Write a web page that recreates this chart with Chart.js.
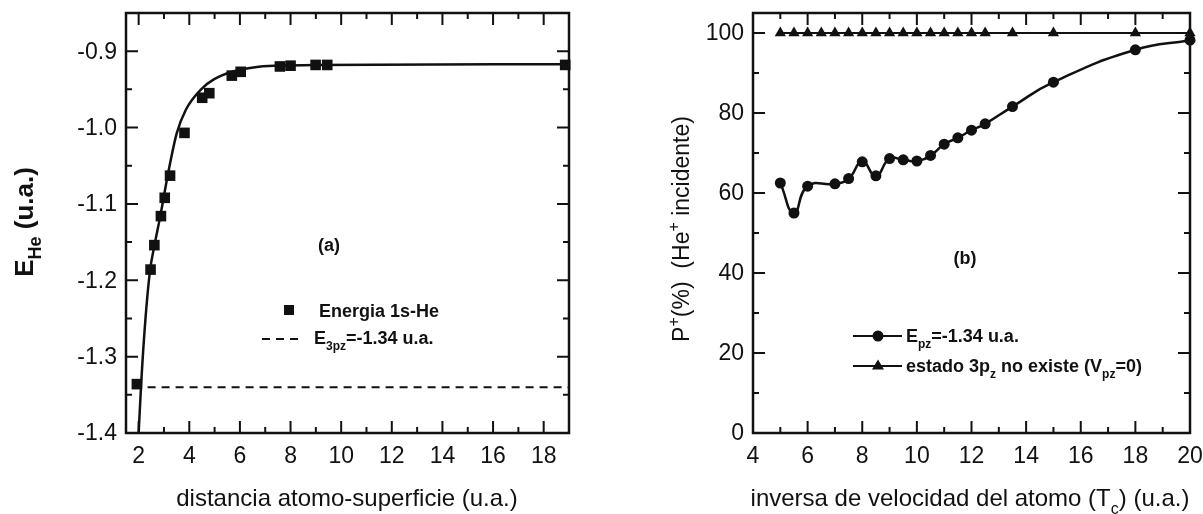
<!DOCTYPE html>
<html>
<head>
<meta charset="utf-8">
<script src="https://cdn.jsdelivr.net/npm/chart.js@4.4.1/dist/chart.umd.min.js"></script>
<style>
  html, body { margin: 0; padding: 0; background: #fff; }
  #wrap { position: relative; width: 1203px; height: 514px; overflow: hidden; }
  #wrap canvas { position: absolute; top: 0; }
</style>
</head>
<body>
<div id="wrap">
  <canvas id="chartA" width="600" height="514" style="left:0"></canvas>
  <canvas id="chartB" width="603" height="514" style="left:600px"></canvas>
</div>
<script>
// (a) energia 1s-He frente a la distancia
var distPoints   = [1.93, 2.47, 2.62, 2.88, 3.03, 3.24, 3.81, 4.51, 4.79, 5.68, 6.03, 7.58, 8.0, 8.99, 9.45, 18.85];
var energyPoints = [-1.336, -1.186, -1.154, -1.116, -1.092, -1.063, -1.007, -0.961, -0.955, -0.932, -0.927, -0.920, -0.919, -0.918, -0.918, -0.918];
// curva de ajuste
var fitDist   = [2.0, 2.1, 2.27, 2.45, 2.62, 2.86, 3.14, 3.5, 3.86, 4.5, 4.97, 5.69, 6.6, 7.5, 9.0, 19.0];
var fitEnergy = [-1.40, -1.335, -1.25, -1.187, -1.155, -1.115, -1.064, -1.008, -0.977, -0.949, -0.937, -0.927, -0.921, -0.919, -0.918, -0.917];
var e3pz = -1.34;
var e3pzDist = [1.8, 19.0];

// (b) P+ frente a la inversa de la velocidad
var tcCircles = [5, 5.5, 6, 7, 7.5, 8, 8.5, 9, 9.5, 10, 10.5, 11, 11.5, 12, 12.5, 13.5, 15, 18, 20];
var pCircles  = [62.5, 55, 61.7, 62.3, 63.6, 67.8, 64.3, 68.6, 68.3, 68, 69.4, 72.2, 73.8, 75.7, 77.3, 81.6, 87.7, 95.8, 98.2];
var tcTriangles = [5, 5.5, 6, 6.5, 7, 7.5, 8, 8.5, 9, 9.5, 10, 10.5, 11, 11.5, 12, 12.5, 13.5, 15, 18, 20];
var pTriangles  = [100, 100, 100, 100, 100, 100, 100, 100, 100, 100, 100, 100, 100, 100, 100, 100, 100, 100, 100, 100];

// ticks
var aXMajor = [2, 4, 6, 8, 10, 12, 14, 16, 18];
var aXMinor = [3, 5, 7, 9, 11, 13, 15, 17];
var aYMajor = [-1.4, -1.3, -1.2, -1.1, -1.0, -0.9];
var aYMinor = [-1.35, -1.25, -1.15, -1.05, -0.95];
var bXMajor = [4, 6, 8, 10, 12, 14, 16, 18, 20];
var bXMinor = [5, 7, 9, 11, 13, 15, 17, 19];
var bYMajor = [0, 20, 40, 60, 80, 100];
var bYMinor = [10, 30, 50, 70, 90];

var ink = '#111';
var family = '"Liberation Sans", Arial, Helvetica, sans-serif';

function pairs(xs, ys) {
  return xs.map(function (x, i) { return { x: x, y: ys[i] }; });
}

function font(size, weight) {
  return (weight || 'normal') + ' ' + size + 'px ' + family;
}

// texto con subindices / superindices: parts = [[texto, '' | 'sub' | 'sup'], ...]
function richText(ctx, parts, x, y, size, weight, align) {
  var widths = parts.map(function (p) {
    ctx.font = font(p[1] ? Math.round(size * 0.68) : size, weight);
    return ctx.measureText(p[0]).width;
  });
  var total = widths.reduce(function (s, w) { return s + w; }, 0);
  var cx = align === 'center' ? x - total / 2 : x;
  ctx.textAlign = 'left';
  ctx.textBaseline = 'alphabetic';
  parts.forEach(function (p, i) {
    ctx.font = font(p[1] ? Math.round(size * 0.68) : size, weight);
    var dy = p[1] === 'sub' ? size * 0.32 : (p[1] === 'sup' ? -size * 0.42 : 0);
    ctx.fillText(p[0], cx, y + dy);
    cx += widths[i];
  });
}

function panelPlugin(cfg) {
  return {
    id: 'panel',
    afterDraw: function (chart) {
      var ctx = chart.ctx, a = chart.chartArea;
      var xs = chart.scales.x, ys = chart.scales.y;
      ctx.save();
      ctx.strokeStyle = ink;
      ctx.fillStyle = ink;

      // marco
      ctx.lineWidth = 2.5;
      ctx.strokeRect(a.left, a.top, a.right - a.left, a.bottom - a.top);

      // ticks hacia dentro en los cuatro lados
      ctx.lineWidth = 2;
      ctx.beginPath();
      function xt(list, len) {
        list.forEach(function (v) {
          var p = xs.getPixelForValue(v);
          ctx.moveTo(p, a.bottom); ctx.lineTo(p, a.bottom - len);
          ctx.moveTo(p, a.top); ctx.lineTo(p, a.top + len);
        });
      }
      function yt(list, len) {
        list.forEach(function (v) {
          var p = ys.getPixelForValue(v);
          ctx.moveTo(a.left, p); ctx.lineTo(a.left + len, p);
          ctx.moveTo(a.right, p); ctx.lineTo(a.right - len, p);
        });
      }
      xt(cfg.xMajor, 12); xt(cfg.xMinor, 6);
      yt(cfg.yMajor, 12); yt(cfg.yMinor, 6);
      ctx.stroke();

      // etiquetas
      ctx.font = font(23);
      ctx.textAlign = 'center';
      ctx.textBaseline = 'middle';
      cfg.xMajor.forEach(function (v) {
        ctx.fillText(String(v), xs.getPixelForValue(v), 457);
      });
      ctx.textAlign = 'right';
      cfg.yMajor.forEach(function (v) {
        ctx.fillText(cfg.yFormat(v), a.left - 9, ys.getPixelForValue(v) + 1);
      });

      // titulo eje x
      richText(ctx, cfg.xTitle, cfg.xTitleX, 506, 24, 'normal', 'center');

      // titulo eje y (girado)
      ctx.save();
      ctx.translate(cfg.yTitleX, cfg.yTitleY);
      ctx.rotate(-Math.PI / 2);
      richText(ctx, cfg.yTitle, 0, 0, cfg.yTitleSize, cfg.yTitleWeight, 'center');
      ctx.restore();

      cfg.extra(ctx, chart);
      ctx.restore();
    }
  };
}

new Chart(document.getElementById('chartA'), {
  type: 'scatter',
  data: {
    datasets: [{
      label: 'ajuste',
      data: pairs(fitDist, fitEnergy),
      showLine: true,
      borderColor: ink,
      borderWidth: 2.5,
      pointRadius: 0,
      cubicInterpolationMode: 'monotone'
    }, {
      label: 'E3pz',
      data: pairs(e3pzDist, [e3pz, e3pz]),
      showLine: true,
      borderColor: ink,
      borderWidth: 2,
      borderDash: [8, 6],
      pointRadius: 0
    }, {
      label: 'Energia 1s-He',
      data: pairs(distPoints, energyPoints),
      pointStyle: 'rect',
      pointRadius: 7.5,
      backgroundColor: ink,
      borderColor: ink,
      borderWidth: 0,
      clip: false
    }]
  },
  options: {
    responsive: false,
    animation: false,
    layout: { padding: { left: 126, right: 31, top: 13, bottom: 81 } },
    scales: {
      x: { type: 'linear', display: false, min: 1.5, max: 19 },
      y: { type: 'linear', display: false, min: -1.4, max: -0.85 }
    },
    plugins: { legend: { display: false }, tooltip: { enabled: false } }
  },
  plugins: [panelPlugin({
    xMajor: aXMajor, xMinor: aXMinor, yMajor: aYMajor, yMinor: aYMinor,
    yFormat: function (v) { return v.toFixed(1); },
    xTitle: [['distancia atomo-superficie (u.a.)', '']],
    xTitleX: 347,
    yTitle: [['E', ''], ['He', 'sub'], [' (u.a.)', '']],
    yTitleX: 33, yTitleY: 222, yTitleSize: 26, yTitleWeight: 'bold',
    extra: function (ctx) {
      richText(ctx, [['(a)', '']], 329, 251, 18, 'bold', 'center');
      ctx.fillRect(284, 305, 10, 10);
      richText(ctx, [['Energia 1s-He', '']], 319, 317, 18, 'bold', 'left');
      ctx.lineWidth = 2;
      ctx.setLineDash([8, 6]);
      ctx.beginPath(); ctx.moveTo(262, 339); ctx.lineTo(302, 339); ctx.stroke();
      ctx.setLineDash([]);
      richText(ctx, [['E', ''], ['3pz', 'sub'], ['=-1.34 u.a.', '']], 314, 344, 18, 'bold', 'left');
    }
  })]
});

new Chart(document.getElementById('chartB'), {
  type: 'scatter',
  data: {
    datasets: [{
      label: 'Epz=-1.34 u.a.',
      data: pairs(tcCircles, pCircles),
      showLine: true,
      tension: 0.5,
      borderColor: ink,
      borderWidth: 2.5,
      pointStyle: 'circle',
      pointRadius: 5.5,
      backgroundColor: ink,
      pointBorderWidth: 0,
      clip: false
    }, {
      label: 'estado 3pz no existe (Vpz=0)',
      data: pairs(tcTriangles, pTriangles),
      showLine: true,
      borderColor: ink,
      borderWidth: 2,
      pointStyle: 'triangle',
      pointRadius: 6.5,
      backgroundColor: ink,
      pointBorderWidth: 0,
      clip: false
    }]
  },
  options: {
    responsive: false,
    animation: false,
    layout: { padding: { left: 153, right: 13, top: 13, bottom: 81 } },
    scales: {
      x: { type: 'linear', display: false, min: 4, max: 20 },
      y: { type: 'linear', display: false, min: 0, max: 105 }
    },
    plugins: { legend: { display: false }, tooltip: { enabled: false } }
  },
  plugins: [panelPlugin({
    xMajor: bXMajor, xMinor: bXMinor, yMajor: bYMajor, yMinor: bYMinor,
    yFormat: function (v) { return String(v); },
    xTitle: [['inversa de velocidad del atomo (T', ''], ['c', 'sub'], [') (u.a.)', '']],
    xTitleX: 370,
    yTitle: [['P', ''], ['+', 'sup'], ['(%)  (He', ''], ['+', 'sup'], [' incidente)', '']],
    yTitleX: 89, yTitleY: 229, yTitleSize: 23, yTitleWeight: 'normal',
    extra: function (ctx) {
      richText(ctx, [['(b)', '']], 365, 264, 18, 'bold', 'center');
      ctx.lineWidth = 2;
      ctx.beginPath();
      ctx.moveTo(253, 336); ctx.lineTo(302, 336);
      ctx.moveTo(253, 366); ctx.lineTo(302, 366);
      ctx.stroke();
      ctx.beginPath(); ctx.arc(278, 336, 5.5, 0, Math.PI * 2); ctx.fill();
      ctx.beginPath();
      ctx.moveTo(278, 359.5); ctx.lineTo(284, 369.5); ctx.lineTo(272, 369.5);
      ctx.closePath(); ctx.fill();
      richText(ctx, [['E', ''], ['pz', 'sub'], ['=-1.34 u.a.', '']], 306, 342, 18, 'bold', 'left');
      richText(ctx, [['estado 3p', ''], ['z', 'sub'], [' no existe (V', ''], ['pz', 'sub'], ['=0)', '']], 306, 372, 18, 'bold', 'left');
    }
  })]
});
</script>
</body>
</html>
